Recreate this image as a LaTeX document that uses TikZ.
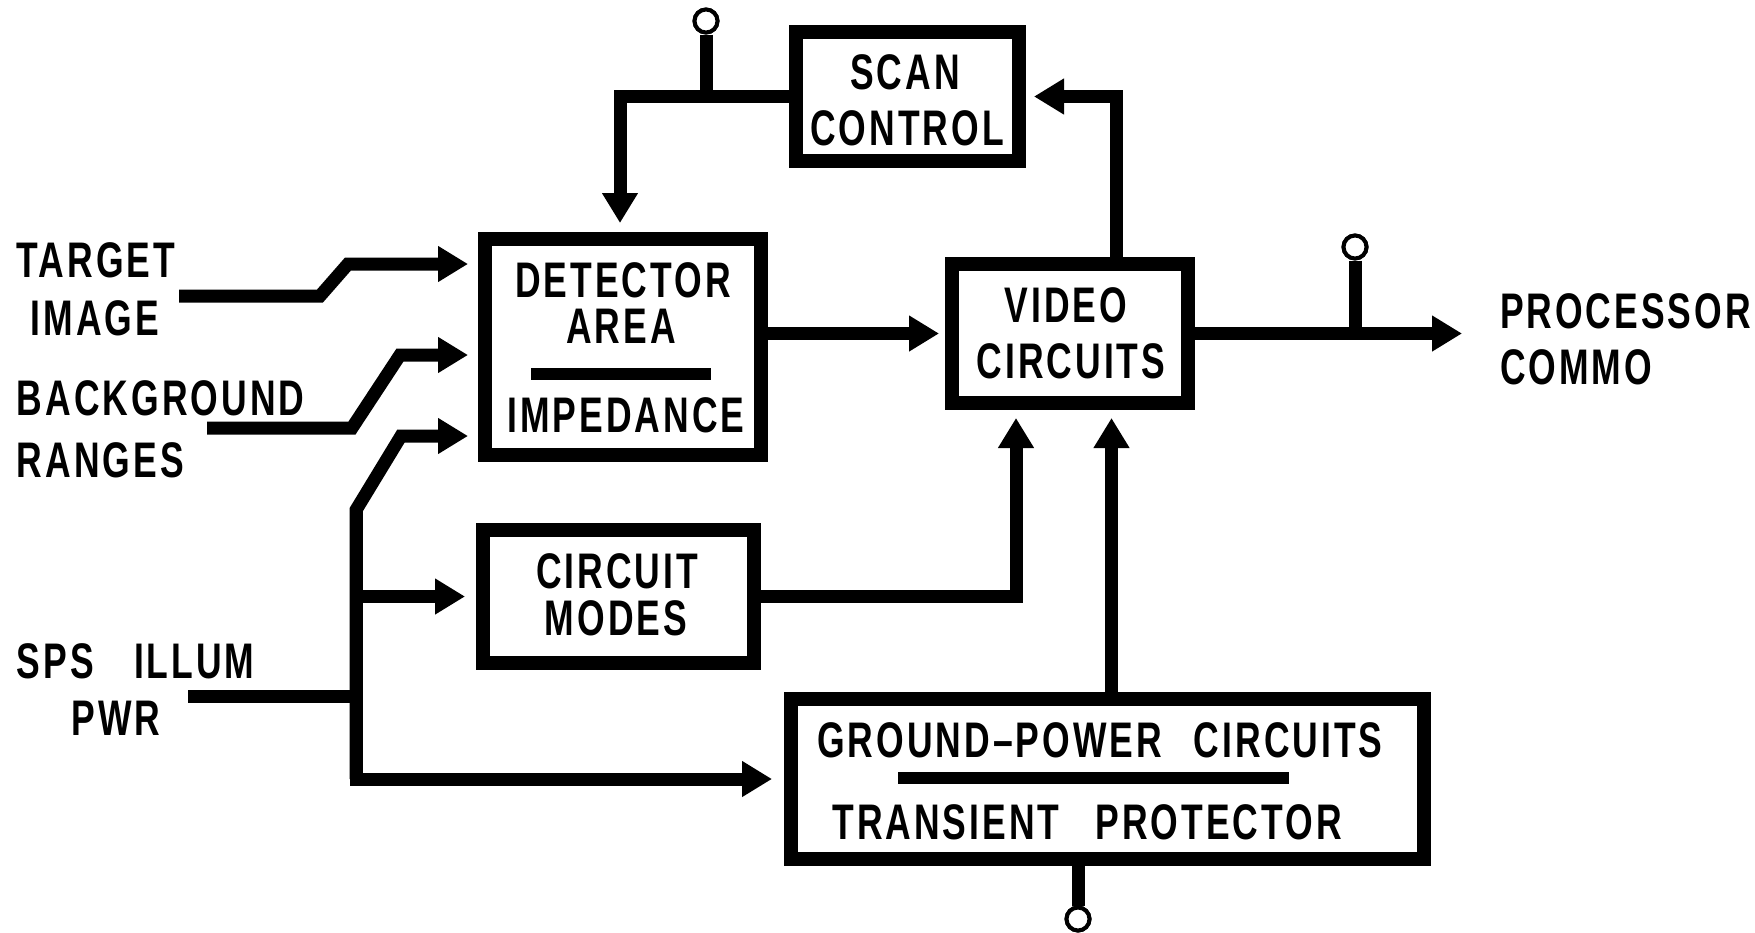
\documentclass[tikz,border=0pt]{standalone}
\usepackage{fontspec}
\newfontfamily\lab{Liberation Sans}[FakeStretch=0.71, LetterSpace=6]
\usetikzlibrary{arrows.meta}
\begin{document}
\begin{tikzpicture}[x=0.5pt,y=-0.5pt,
  box/.style={draw, line width=7pt, inner sep=0pt, outer sep=0pt},
  conn/.style={line width=6.5pt},
  arr/.style={conn, -{Triangle[length=15pt,width=17pt]}},
  txt/.style={inner sep=0pt, outer sep=0pt, font=\lab\bfseries\fontsize{25}{25}\selectfont},
  term/.style={circle, draw, line width=2pt, fill=white, minimum size=11.5pt, inner sep=0pt},
  bar/.style={line width=6pt}]
\useasboundingbox (0,0) rectangle (1755,932);

% boxes
\node[box, minimum width=111.5pt, minimum height=64.5pt] (scan) at (907.5,96.5) {};
\node[box, minimum width=138pt, minimum height=108pt] (det) at (623,347) {};
\node[box, minimum width=118pt, minimum height=69.5pt] (vid) at (1070,333.5) {};
\node[box, minimum width=135.5pt, minimum height=66.5pt] (modes) at (618.5,596.5) {};
\node[box, minimum width=316.5pt, minimum height=80pt] (gnd) at (1107.5,779) {};

% box texts
\node[txt] (scan1) at (905,72) {SCAN};
\node[txt] (scan2) at (907,128) {CONTROL};
\node[txt] (det1) at (623,280) {DETECTOR};
\node[txt] (det2) at (621,326) {AREA};
\draw[bar] (531,374) -- (711,374);
\node[txt] (det3) at (626,415) {IMPEDANCE};
\node[txt] (vid1) at (1066,305) {VIDEO};
\node[txt] (vid2) at (1071,361) {CIRCUITS};
\node[txt] (mod1) at (617,571) {CIRCUIT};
\node[txt] (mod2) at (616,618) {MODES};
\node[txt] (gnd1) at (1100,740) {GROUND–POWER\hspace{16pt}CIRCUITS};
\draw[bar] (898,778) -- (1289,778);
\node[txt] (gnd2) at (1087,822) {TRANSIENT\hspace{18pt}PROTECTOR};

% outside labels
\node[txt] (tgt1) at (96,260) {TARGET};
\node[txt] (tgt2) at (95,318) {IMAGE};
\node[txt, anchor=west] (bg1) at (17,398) {BACKGROUND};
\node[txt, anchor=west] (bg2) at (17,460) {RANGES};
\node[txt, anchor=west] (sps1) at (17,661) {SPS\hspace{20pt}ILLUM};
\node[txt] (sps2) at (116,718) {PWR};
\node[txt, anchor=west] (proc1) at (1500,311) {PROCESSOR};
\node[txt, anchor=west] (proc2) at (1500,367) {COMMO};

% terminals
\node[term] (t1) at (706,21) {};
\node[term] (t2) at (1355,247) {};
\node[term] (t3) at (1078,919) {};

% coordinates
\coordinate (s1) at (179,296);
\coordinate (b1a) at (320,296);
\coordinate (b1b) at (348,264);
\coordinate (s2) at (207,428);
\coordinate (b2a) at (352,428);
\coordinate (b2b) at (400,355);
\coordinate (s3) at (188,696);
\coordinate (bt) at (356,510);
\coordinate (b3b) at (401,436);

% input arrows
\draw[arr, shorten >=8.5pt] (s1) -- (b1a) -- (b1b) -- (b1b -| det.west);
\draw[arr, shorten >=8.5pt] (s2) -- (b2a) -- (b2b) -- (b2b -| det.west);
\draw[arr, shorten >=8.5pt] (bt |- gnd.west) -- (bt) -- (b3b) -- (b3b -| det.west);
\draw[arr, shorten >=9.5pt] (bt) -- (bt |- gnd.west) -- (gnd.west);
\draw[conn] (s3) -- (s3 -| bt);
\draw[arr, shorten >=9pt] (bt |- modes.west) -- (modes.west);

% internal connections
\draw[arr, shorten >=8pt] (scan.west) -| ([xshift=-1.5pt]det.north);
\draw[conn] (t1.south) -- (t1.south |- scan.west);
\draw[arr, shorten >=6.5pt] (det.east |- vid.west) -- (vid.west);
\draw[arr, shorten >=7.5pt] (modes.east) -| ([xshift=-27pt]vid.south);
\draw[arr, shorten >=7.5pt] ([xshift=2pt]gnd.north) -- ([xshift=2pt]gnd.north |- vid.south);
\draw[arr, shorten >=7.5pt] ([xshift=23pt]vid.north) |- (scan.east);
\draw[arr, shorten >=19pt] (vid.east) -- (vid.east -| proc1.west);
\draw[conn] (t2.south) -- (t2.south |- vid.east);
\draw[conn] (t3.north) -- (t3.north |- gnd.south);
\node[term] at (t1) {};
\node[term] at (t2) {};
\node[term] at (t3) {};
\end{tikzpicture}
\end{document}
